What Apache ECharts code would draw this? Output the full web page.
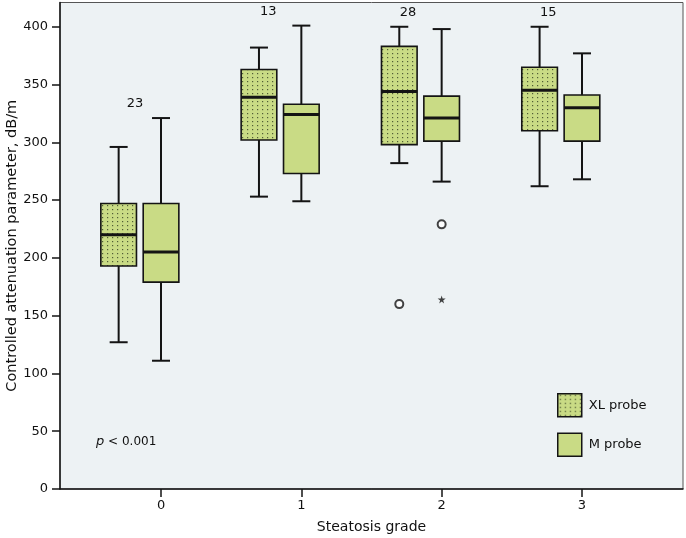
<!DOCTYPE html>
<html>
<head>
<meta charset="utf-8">
<script src="https://cdn.jsdelivr.net/npm/echarts@6/dist/echarts.min.js"></script>
<style>
html,body{margin:0;padding:0;background:#fff;}
#chart{width:686px;height:538px;}
</style>
</head>
<body>
<div id="chart"></div>
<script>
// ---- data ----
const grades = [0, 1, 2, 3];
const yTicks = [0, 50, 100, 150, 200, 250, 300, 350, 400];
const counts = ['23', '13', '28', '15'];

const xlLower  = [127, 253, 282, 262];
const xlQ1     = [193, 302, 298, 310];
const xlMedian = [220, 339, 344, 345];
const xlQ3     = [247, 363, 383, 365];
const xlUpper  = [296, 382, 400, 400];

const mLower  = [111, 249, 266, 268];
const mQ1     = [179, 273, 301, 301];
const mMedian = [205, 324, 321, 330];
const mQ3     = [247, 333, 340, 341];
const mUpper  = [321, 401, 398, 377];

const xlOutliers = [[2, 160]];
const mOutliers  = [[2, 229]];
const mExtremes  = [[2, 164]];

// ---- layout config ----
const xlShift = -0.302, mShift = 0;
const boxWidth = 0.254;
const countDx = [-0.185, -0.235, -0.24, -0.24];

const FILL = '#c9db85';
const INK = '#141414';
const FONT = '"DejaVu Sans", Verdana, sans-serif';

function makePattern() {
  const c = document.createElement('canvas');
  c.width = 5; c.height = 4;
  const ctx = c.getContext('2d');
  ctx.fillStyle = FILL;
  ctx.fillRect(0, 0, 5, 4);
  ctx.fillStyle = 'rgba(60,72,40,0.85)';
  ctx.fillRect(2, 1, 1.2, 1.2);
  return { image: c, repeat: 'repeat' };
}
const dotted = makePattern();

function boxData(lo, q1, md, q3, up) {
  return grades.map((g, i) => [g, lo[i], q1[i], md[i], q3[i], up[i]]);
}

function makeRender(shift, fill) {
  return function (params, api) {
    const x = api.value(0) + shift;
    const pLo = api.coord([x, api.value(1)]);
    const pQ1 = api.coord([x, api.value(2)]);
    const pMd = api.coord([x, api.value(3)]);
    const pQ3 = api.coord([x, api.value(4)]);
    const pUp = api.coord([x, api.value(5)]);
    const hw = api.size([boxWidth, 0])[0] / 2;
    const cap = 9;
    const cx = pMd[0];
    const lineStyle = { stroke: INK, lineWidth: 2 };
    return {
      type: 'group',
      children: [
        { type: 'line', shape: { x1: cx, y1: pQ3[1], x2: cx, y2: pUp[1] }, style: lineStyle },
        { type: 'line', shape: { x1: cx - cap, y1: pUp[1], x2: cx + cap, y2: pUp[1] }, style: lineStyle },
        { type: 'line', shape: { x1: cx, y1: pQ1[1], x2: cx, y2: pLo[1] }, style: lineStyle },
        { type: 'line', shape: { x1: cx - cap, y1: pLo[1], x2: cx + cap, y2: pLo[1] }, style: lineStyle },
        { type: 'rect', shape: { x: cx - hw, y: pQ3[1], width: hw * 2, height: pQ1[1] - pQ3[1] },
          style: { fill: fill, stroke: INK, lineWidth: 1.6 } },
        { type: 'line', shape: { x1: cx - hw, y1: pMd[1], x2: cx + hw, y2: pMd[1] },
          style: { stroke: INK, lineWidth: 3 } }
      ]
    };
  };
}

const chart = echarts.init(document.getElementById('chart'), null, { renderer: 'canvas' });

const starPath = 'path://M50,0 L61.8,35.4 L100,35.4 L69.1,57.3 L80.9,93.1 L50,71.2 L19.1,93.1 L30.9,57.3 L0,35.4 L38.2,35.4 Z';

const option = {
  animation: false,
  backgroundColor: '#ffffff',
  textStyle: { fontFamily: FONT },
  grid: {
    left: 60, right: 3, top: 2.5, bottom: 49,
    outerBoundsMode: 'none', containLabel: false,
    show: true, backgroundColor: '#edf2f4', borderColor: '#555', borderWidth: 1
  },
  legend: {
    orient: 'vertical', left: 557, top: 393, padding: 0,
    itemWidth: 24, itemHeight: 23, itemGap: 15,
    selectedMode: false, icon: 'rect',
    textStyle: { fontFamily: FONT, fontSize: 13, color: '#111', padding: [0, 0, 0, 2] },
    data: [
      { name: 'XL probe', itemStyle: { color: dotted, borderColor: INK, borderWidth: 1.5 } },
      { name: 'M probe', itemStyle: { color: FILL, borderColor: INK, borderWidth: 1.5 } }
    ]
  },
  xAxis: {
    type: 'value', min: -0.72, max: 3.72,
    name: 'Steatosis grade', nameLocation: 'middle', nameGap: 31, nameMoveOverlap: false,
    nameTextStyle: { fontFamily: FONT, fontSize: 14, color: '#111' },
    splitLine: { show: false },
    axisLine: { show: true, onZero: false, lineStyle: { color: INK, width: 1.5 } },
    axisTick: { show: true, length: 8, customValues: grades, lineStyle: { color: INK, width: 1.5 } },
    axisLabel: { customValues: grades, fontFamily: FONT, fontSize: 13, color: '#111', margin: 10 }
  },
  yAxis: {
    type: 'value', min: 0, max: 421,
    name: 'Controlled attenuation parameter, dB/m', nameLocation: 'middle', nameGap: 40, nameMoveOverlap: false,
    nameTextStyle: { fontFamily: FONT, fontSize: 14.5, color: '#111' },
    splitLine: { show: false },
    axisLine: { show: true, onZero: false, lineStyle: { color: INK, width: 1.5 } },
    axisTick: { show: true, length: 8, customValues: yTicks, lineStyle: { color: INK, width: 1.5 } },
    axisLabel: { customValues: yTicks, fontFamily: FONT, fontSize: 13, color: '#111', margin: 12 }
  },
  graphic: [
    {
      type: 'text', left: 96, top: 435, z: 100,
      style: {
        text: '{i|p} < 0.001',
        font: '12px ' + FONT, fill: '#111',
        rich: { i: { fontStyle: 'italic', fontSize: 13, fontFamily: FONT, fill: '#111' } }
      }
    }
  ],
  series: [
    {
      name: 'XL probe', type: 'custom', renderItem: makeRender(xlShift, dotted),
      itemStyle: { color: dotted },
      data: boxData(xlLower, xlQ1, xlMedian, xlQ3, xlUpper), z: 3
    },
    {
      name: 'M probe', type: 'custom', renderItem: makeRender(mShift, FILL),
      itemStyle: { color: FILL },
      data: boxData(mLower, mQ1, mMedian, mQ3, mUpper), z: 3
    },
    {
      name: 'counts', type: 'custom',
      data: grades.map((g, i) => [g, Math.max(xlUpper[i], mUpper[i]), i]),
      renderItem: function (params, api) {
        const i = api.value(2);
        const p = api.coord([api.value(0) + countDx[i], api.value(1)]);
        return {
          type: 'text',
          x: p[0], y: p[1] - 14,
          style: { text: counts[i], font: '13px ' + FONT, fill: '#111', align: 'center', verticalAlign: 'middle' }
        };
      }, z: 4
    },
    {
      name: 'XL outliers', type: 'scatter',
      data: xlOutliers.map(d => [d[0] + xlShift, d[1]]),
      symbol: 'emptyCircle', symbolSize: 8,
      itemStyle: { color: INK, borderColor: INK, borderWidth: 1.6 }, z: 5
    },
    {
      name: 'M outliers', type: 'scatter',
      data: mOutliers.map(d => [d[0] + mShift, d[1]]),
      symbol: 'emptyCircle', symbolSize: 8,
      itemStyle: { color: INK, borderColor: INK, borderWidth: 1.6 }, z: 5
    },
    {
      name: 'M extremes', type: 'scatter',
      data: mExtremes.map(d => [d[0] + mShift, d[1]]),
      symbol: starPath, symbolSize: 8,
      itemStyle: { color: INK }, z: 5
    }
  ]
};

chart.setOption(option);
</script>
</body>
</html>
